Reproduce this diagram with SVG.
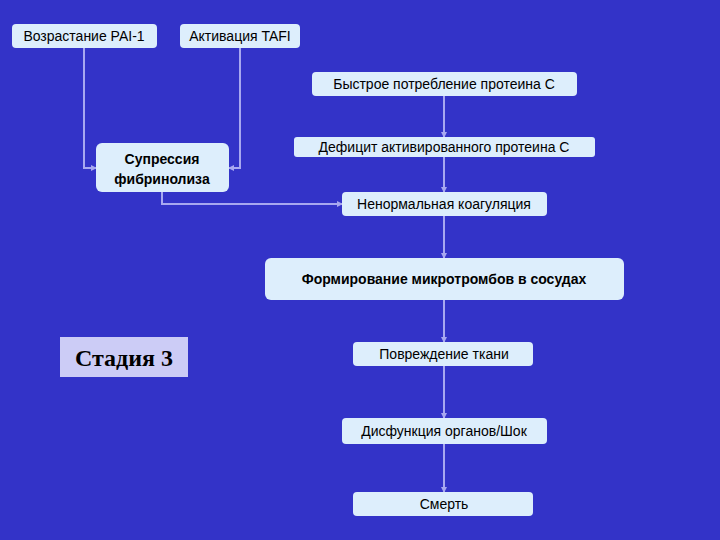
<svg xmlns="http://www.w3.org/2000/svg" width="720" height="540" viewBox="0 0 720 540">
<style>
.b{fill:#DDEEFC;stroke:none}
.t{font-family:"Liberation Sans",Arial,sans-serif;font-size:14px;fill:#000;text-anchor:middle}
.bd{font-weight:bold}
.c{fill:none;stroke:#A8A8F0;stroke-width:2}
</style>
<defs><marker id="a" markerWidth="6" markerHeight="6" refX="5" refY="3" orient="auto" markerUnits="userSpaceOnUse"><path d="M0,0L6,3L0,6Z" fill="#A8A8F0"/></marker></defs>
<rect width="720" height="540" fill="#3333C8"/>
<g id="connectors">
<path class="c" d="M84,48V168H96" marker-end="url(#a)"/>
<path class="c" d="M240,48V168H229" marker-end="url(#a)"/>
<path class="c" d="M162,192V204H342" marker-end="url(#a)"/>
<path class="c" d="M444,96V137" marker-end="url(#a)"/>
<path class="c" d="M444,157V192" marker-end="url(#a)"/>
<path class="c" d="M444,216V258" marker-end="url(#a)"/>
<path class="c" d="M444,300V342" marker-end="url(#a)"/>
<path class="c" d="M444,366V418" marker-end="url(#a)"/>
<path class="c" d="M444,444V492" marker-end="url(#a)"/>
</g>
<g id="n1"><rect class="b" x="12" y="24" width="145" height="24" rx="4"/><text class="t" x="84" y="41">Возрастание PAI-1</text></g>
<g id="n2"><rect class="b" x="180" y="24" width="120" height="24" rx="4"/><text class="t" x="240" y="41">Активация TAFI</text></g>
<g id="n3"><rect class="b" x="312" y="72" width="265" height="24" rx="4"/><text class="t" x="444" y="89">Быстрое потребление протеина С</text></g>
<g id="n4"><rect class="b" x="96" y="143" width="133" height="49" rx="6"/><text class="t bd" x="162" y="164">Супрессия</text><text class="t bd" x="162" y="184">фибринолиза</text></g>
<g id="n5"><rect class="b" x="294" y="137" width="301" height="20" rx="3"/><text class="t" x="444" y="152">Дефицит активированного протеина С</text></g>
<g id="n6"><rect class="b" x="342" y="192" width="205" height="24" rx="4"/><text class="t" x="444" y="209">Ненормальная коагуляция</text></g>
<g id="n7"><rect class="b" x="265" y="258" width="359" height="42" rx="6"/><text class="t bd" x="444" y="284">Формирование микротромбов в сосудах</text></g>
<g id="n8"><rect x="60" y="337" width="128" height="40" fill="#CCCCF6"/><text x="124" y="366" font-family="'Liberation Serif','Times New Roman',serif" font-size="24" font-weight="bold" text-anchor="middle">Стадия 3</text></g>
<g id="n9"><rect class="b" x="353" y="342" width="180" height="24" rx="4"/><text class="t" x="444" y="359">Повреждение ткани</text></g>
<g id="n10"><rect class="b" x="342" y="418" width="205" height="26" rx="4"/><text class="t" x="444" y="436">Дисфункция органов/Шок</text></g>
<g id="n11"><rect class="b" x="353" y="492" width="180" height="24" rx="4"/><text class="t" x="444" y="509">Смерть</text></g>
</svg>
